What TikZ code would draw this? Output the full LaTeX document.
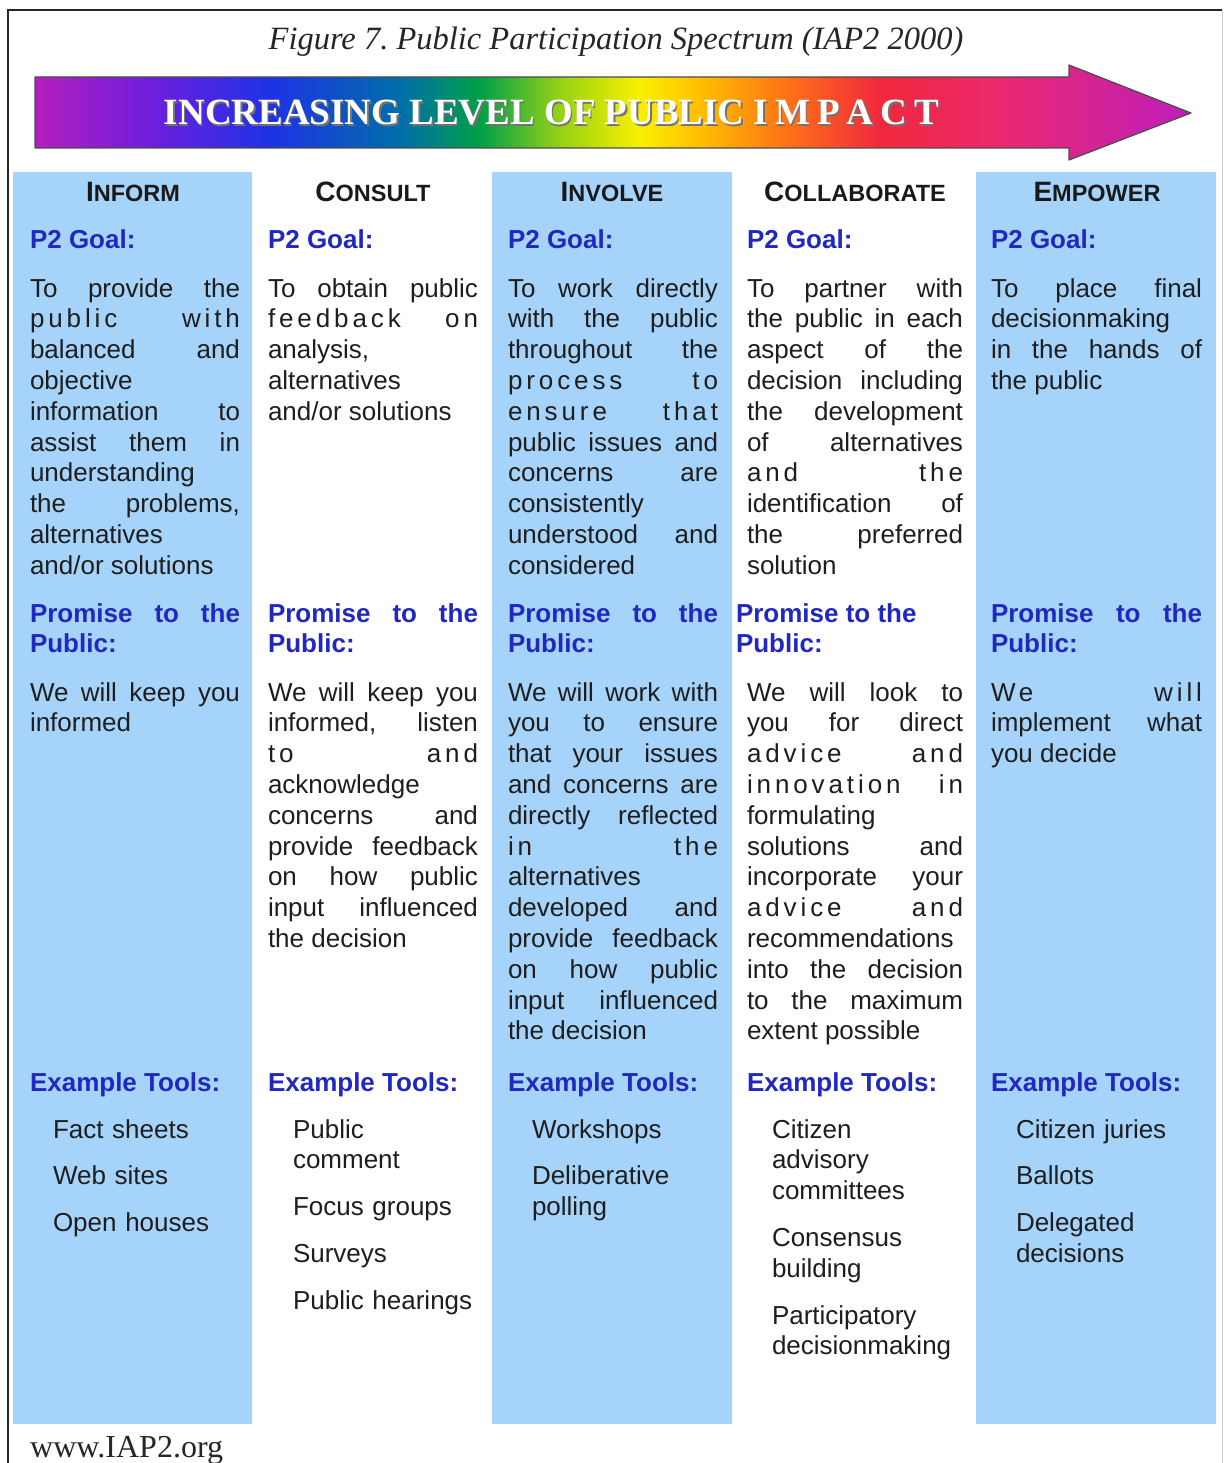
\documentclass[tikz,border=0pt]{standalone}
\usepackage{fontspec}
\setmainfont{Liberation Sans}
\newfontfamily\timesf{Liberation Serif}
\definecolor{colblue}{HTML}{A6D3FA}
\definecolor{headblue}{RGB}{32,40,192}
\definecolor{bodytxt}{HTML}{1E1E1E}
\definecolor{rbA}{RGB}{180,30,190}
\definecolor{rbB}{RGB}{110,30,220}
\definecolor{rbC}{RGB}{30,50,230}
\definecolor{rbD}{RGB}{0,110,170}
\definecolor{rbE}{RGB}{0,160,70}
\definecolor{rbF}{RGB}{150,210,20}
\definecolor{rbG}{RGB}{250,240,0}
\definecolor{rbH}{RGB}{255,190,0}
\definecolor{rbI}{RGB}{255,120,20}
\definecolor{rbJ}{RGB}{240,40,60}
\definecolor{rbK}{RGB}{235,40,110}
\definecolor{rbL}{RGB}{190,30,190}
\pgfdeclarehorizontalshading{rainbowarrow}{100bp}{color(0bp)=(rbA); color(25bp)=(rbA); color(29.97bp)=(rbB); color(35.16bp)=(rbC); color(40.79bp)=(rbD); color(44.25bp)=(rbE); color(47.71bp)=(rbF); color(51.17bp)=(rbG); color(53.76bp)=(rbH); color(57.22bp)=(rbI); color(61.55bp)=(rbJ); color(66.74bp)=(rbK); color(75bp)=(rbL); color(100bp)=(rbL)}
\frenchspacing
\newcommand\bodyf{\fontsize{26}{30.8}\selectfont}
\newcommand\bodyb{\fontsize{26}{30.8}\selectfont\bfseries}
\newcommand\JL[1]{\hbox to\hsize{\spaceskip=.25em plus 1fil\relax #1}}
\newcommand\RL[1]{\hbox to\hsize{#1\hfil}}
\newcommand\LS[1]{{\addfontfeature{LetterSpace=15}#1}}
\newcommand\blk[2]{\vtop{\hsize=#1\relax\parindent=0pt #2}}
\newcommand\sch[2]{{\fontsize{28}{28}\selectfont #1}{\fontsize{23.5}{23.5}\selectfont #2}}
\begin{document}
\begin{tikzpicture}[x=1pt,y=-1pt,
  bodyblk/.style={anchor=base west, inner sep=0pt, outer sep=0pt, font=\bodyf, text=bodytxt},
  headblk/.style={anchor=base west, inner sep=0pt, outer sep=0pt, font=\bodyb, text=headblue},
  colhead/.style={anchor=base, inner sep=0pt, text=black!90, font=\bfseries},
  toolblk/.style={anchor=base west, inner sep=0pt, outer sep=0pt, font=\bodyf, text=bodytxt, text width=200pt, align=left},
  colfill/.style={fill=colblue, draw=none},
  arrowfont/.style={anchor=base, inner sep=0pt, font=\timesf\bfseries\fontsize{37}{37}\selectfont}
]
\useasboundingbox (0,0) rectangle (1224,1463);
\fill[white] (0,0) rectangle (1224,1463);
% frame
\draw[line width=2pt, black!85] (8,1463) -- (8,10) -- (1222,10);
\draw[line width=1pt, black!20] (1222,10) -- (1222,1463);
% title
\node[anchor=base, inner sep=0pt, font=\timesf\itshape\fontsize{32.5}{32.5}\selectfont, text=black!85] (title) at (616,50) {Figure 7. Public Participation Spectrum (IAP2 2000)};
% arrow
\path[shading=rainbowarrow, draw=black!70, line width=1.2pt, line join=round]
  (35,77) -- (1069,77) -- (1069,65) -- (1191,113) -- (1069,160) -- (1069,148) -- (35,148) -- cycle;
\node[arrowfont, text=black!55] (arrowshadow) at (553,126.5) {INCREASING LEVEL OF PUBLIC I\kern7pt M\kern7pt P\kern7pt A\kern7pt C\kern7pt T};
\node[arrowfont, text=white] (arrowtxt) at (551.5,125) {INCREASING LEVEL OF PUBLIC I\kern7pt M\kern7pt P\kern7pt A\kern7pt C\kern7pt T};
% columns
\fill[colfill] (13,172) rectangle (252,1424);
\fill[colfill] (492,172) rectangle (732,1424);
\fill[colfill] (976,172) rectangle (1216,1424);
% headers
\node[colhead] (h1) at (133,202) {\sch{I}{NFORM}};
\node[colhead] (h2) at (373,202) {\sch{C}{ONSULT}};
\node[colhead] (h3) at (612,202) {\sch{I}{NVOLVE}};
\node[colhead] (h4) at (855,202) {\sch{C}{OLLABORATE}};
\node[colhead] (h5) at (1097,202) {\sch{E}{MPOWER}};
% P2 Goal
\node[headblk] (p1) at (30,248) {P2 Goal:};
\node[headblk] (p2) at (268,248) {P2 Goal:};
\node[headblk] (p3) at (508,248) {P2 Goal:};
\node[headblk] (p4) at (747,248) {P2 Goal:};
\node[headblk] (p5) at (991,248) {P2 Goal:};
% goals
\node[bodyblk] (g1) at (30,297) {\blk{210pt}{\JL{To provide the}\JL{\LS{public} \LS{with}}\JL{balanced and}\RL{objective}\JL{information to}\JL{assist them in}\RL{understanding}\JL{the problems,}\RL{alternatives}\RL{and/or solutions}}};
\node[bodyblk] (g2) at (268,297) {\blk{210pt}{\JL{To obtain public}\JL{\LS{feedback} \LS{on}}\RL{analysis,}\RL{alternatives}\RL{and/or solutions}}};
\node[bodyblk] (g3) at (508,297) {\blk{210pt}{\JL{To work directly}\JL{with the public}\JL{throughout the}\JL{\LS{process} \LS{to}}\JL{\LS{ensure} \LS{that}}\JL{public issues and}\JL{concerns are}\RL{consistently}\JL{understood and}\RL{considered}}};
\node[bodyblk] (g4) at (747,297) {\blk{216pt}{\JL{To partner with}\JL{the public in each}\JL{aspect of the}\JL{decision including}\JL{the development}\JL{of alternatives}\JL{\LS{and} \LS{the}}\JL{identification of}\JL{the preferred}\RL{solution}}};
\node[bodyblk] (g5) at (991,297) {\blk{211pt}{\JL{To place final}\RL{decisionmaking}\JL{in the hands of}\RL{the public}}};
% promise headings
\node[headblk] (q1) at (30,622) {\blk{210pt}{\JL{Promise to the}\RL{Public:}}};
\node[headblk] (q2) at (268,622) {\blk{210pt}{\JL{Promise to the}\RL{Public:}}};
\node[headblk] (q3) at (508,622) {\blk{210pt}{\JL{Promise to the}\RL{Public:}}};
\node[headblk] (q4) at (736,622) {\blk{216pt}{\RL{Promise to the}\RL{Public:}}};
\node[headblk] (q5) at (991,622) {\blk{211pt}{\JL{Promise to the}\RL{Public:}}};
% promise texts
\node[bodyblk] (r1) at (30,701) {\blk{210pt}{\JL{We will keep you}\RL{informed}}};
\node[bodyblk] (r2) at (268,701) {\blk{210pt}{\JL{We will keep you}\JL{informed, listen}\JL{\LS{to} \LS{and}}\RL{acknowledge}\JL{concerns and}\JL{provide feedback}\JL{on how public}\JL{input influenced}\RL{the decision}}};
\node[bodyblk] (r3) at (508,701) {\blk{210pt}{\JL{We will work with}\JL{you to ensure}\JL{that your issues}\JL{and concerns are}\JL{directly reflected}\JL{\LS{in} \LS{the}}\RL{alternatives}\JL{developed and}\JL{provide feedback}\JL{on how public}\JL{input influenced}\RL{the decision}}};
\node[bodyblk] (r4) at (747,701) {\blk{216pt}{\JL{We will look to}\JL{you for direct}\JL{\LS{advice} \LS{and}}\JL{\LS{innovation} \LS{in}}\RL{formulating}\JL{solutions and}\JL{incorporate your}\JL{\LS{advice} \LS{and}}\JL{recommendations}\JL{into the decision}\JL{to the maximum}\RL{extent possible}}};
\node[bodyblk] (r5) at (991,701) {\blk{211pt}{\JL{\LS{We} \LS{will}}\JL{implement what}\RL{you decide}}};
% example tools headings
\node[headblk] (t1) at (30,1091) {Example Tools:};
\node[headblk] (t2) at (268,1091) {Example Tools:};
\node[headblk] (t3) at (508,1091) {Example Tools:};
\node[headblk] (t4) at (747,1091) {Example Tools:};
\node[headblk] (t5) at (991,1091) {Example Tools:};
% tools
\node[toolblk] (u1) at (53,1138) {Fact sheets\\[16pt]Web sites\\[16pt]Open houses};
\node[toolblk] (u2) at (293,1138) {Public\\comment\\[16pt]Focus groups\\[16pt]Surveys\\[16pt]Public hearings};
\node[toolblk] (u3) at (532,1138) {Workshops\\[16pt]Deliberative\\polling};
\node[toolblk] (u4) at (772,1138) {Citizen\\advisory\\committees\\[16pt]Consensus\\building\\[16pt]Participatory\\decisionmaking};
\node[toolblk] (u5) at (1016,1138) {Citizen juries\\[16pt]Ballots\\[16pt]Delegated\\decisions};
% url
\node[anchor=base west, inner sep=0pt, font=\timesf\fontsize{32}{32}\selectfont, text=black!85] (url) at (30,1457) {www.IAP2.org};
\end{tikzpicture}
\end{document}
